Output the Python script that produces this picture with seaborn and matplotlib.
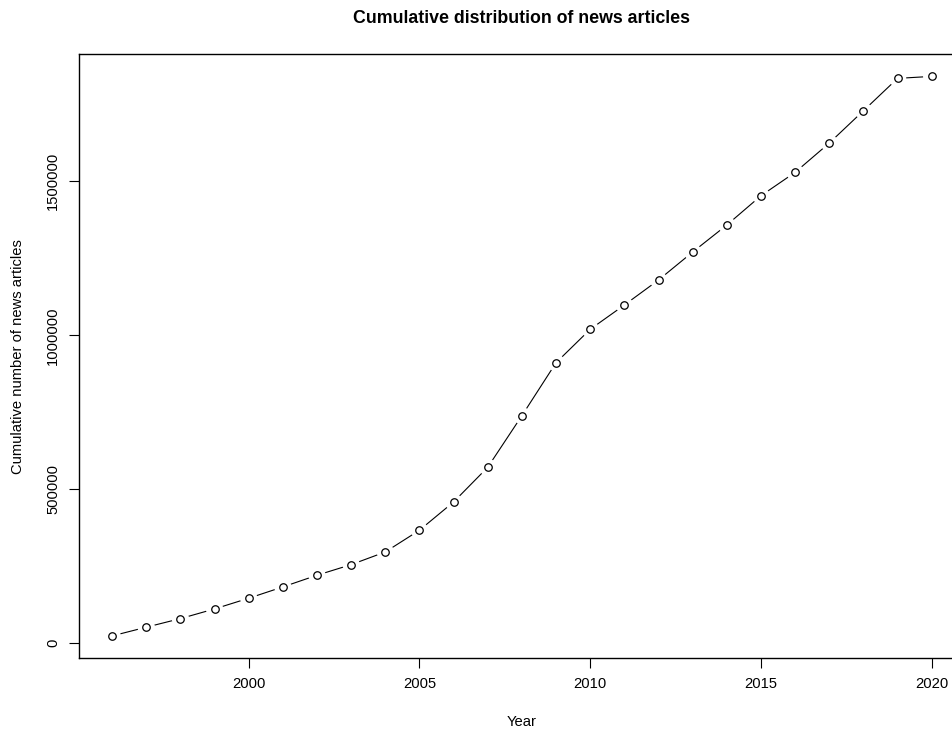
import matplotlib
matplotlib.use("Agg")
import matplotlib.pyplot as plt
import seaborn as sns
import pandas as pd

# Cumulative count of news articles per year
years = [1996, 1997, 1998, 1999, 2000, 2001, 2002, 2003, 2004, 2005, 2006, 2007,
         2008, 2009, 2010, 2011, 2012, 2013, 2014, 2015, 2016, 2017, 2018, 2019, 2020]
cumulative_articles = [23700, 52000, 79900, 111400, 146100, 182800, 220800, 255200,
                       296400, 366900, 458800, 571500, 739000, 911100, 1019500,
                       1098400, 1179600, 1270500, 1358200, 1453300, 1529300,
                       1624400, 1729300, 1834500, 1841000]
x_ticks = [2000, 2005, 2010, 2015, 2020]
y_ticks = [0, 500000, 1000000, 1500000]

df = pd.DataFrame({"Year": years, "Cumulative": cumulative_articles})

sns.set_theme(style="white")
plt.rcParams["font.family"] = ["Liberation Sans", "DejaVu Sans"]

W, H = 953, 734
fig = plt.figure(figsize=(W / 100, H / 100), dpi=100)
# plot region in pixels (left, right, top, bottom); the right edge lies past the canvas
left, right, top, bottom = 79.3, 964.5, 54.0, 658.3
ax = fig.add_axes([left / W, 1 - bottom / H, (right - left) / W, (bottom - top) / H])

# connecting line, a white halo to open gaps around points, then open circles
sns.lineplot(data=df, x="Year", y="Cumulative", ax=ax, color="black",
             linewidth=0.8, zorder=2, estimator=None, sort=False)
sns.scatterplot(data=df, x="Year", y="Cumulative", ax=ax, s=12.5 ** 2,
                color="white", edgecolor="none", linewidth=0, zorder=3)
sns.scatterplot(data=df, x="Year", y="Cumulative", ax=ax, s=5.4 ** 2,
                facecolor="white", edgecolor="black", linewidth=0.9, zorder=4)

# axis ranges padded by 4% on each side
xr = years[-1] - years[0]
ax.set_xlim(years[0] - 0.04 * xr, years[-1] + 0.04 * xr)
yr = max(cumulative_articles) - min(cumulative_articles)
ax.set_ylim(min(cumulative_articles) - 0.04 * yr, max(cumulative_articles) + 0.04 * yr)

ax.set_xticks(x_ticks)
ax.set_xticklabels([str(t) for t in x_ticks])
ax.set_yticks(y_ticks)
ax.set_yticklabels([str(t) for t in y_ticks])
for lab in ax.get_yticklabels():
    lab.set_rotation(90)
    lab.set_va("center")
    lab.set_ha("right")

fs = 10.6
ax.tick_params(axis="both", which="major", direction="out", length=7.2, width=0.8,
               color="black", labelsize=fs, labelcolor="black", bottom=True, left=True)
ax.tick_params(axis="x", pad=6)
ax.tick_params(axis="y", pad=6.5)

for name, sp in ax.spines.items():
    sp.set_visible(True)
    sp.set_color("black")
    sp.set_linewidth(1.0)

ax.set_xlabel("Year", fontsize=fs, color="black")
ax.xaxis.label.set_va("center")
ax.xaxis.set_label_coords(0.5, (bottom - 721.7) / (bottom - top))
ax.set_ylabel("Cumulative number of news articles", fontsize=fs, color="black")
ax.yaxis.label.set_va("center")
ax.yaxis.set_label_coords((18.0 - left) / (right - left), 0.5)

ax.set_title("Cumulative distribution of news articles", fontsize=12.8,
             fontweight="bold", color="black", y=(bottom - 18.5) / (bottom - top),
             va="center", pad=0)

fig.savefig("out.png", dpi=100, facecolor="white")
